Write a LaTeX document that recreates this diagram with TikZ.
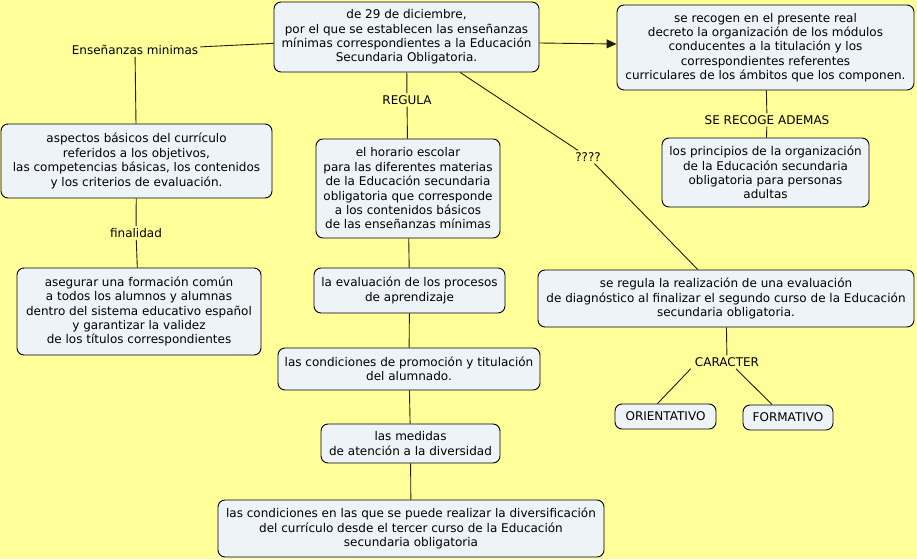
\documentclass[tikz,border=0pt]{standalone}
\usepackage{fontspec}
\setmainfont{DejaVu Sans}
\usetikzlibrary{arrows.meta}
\definecolor{bg}{RGB}{255,255,153}
\definecolor{boxfill}{RGB}{237,243,246}
\definecolor{edge}{RGB}{30,30,15}
\tikzset{
  concept/.style={draw=black, fill=boxfill, rounded corners=7pt, line width=0.9pt, align=center, inner sep=2pt, font=\fontsize{12}{14.4}\selectfont},
  linklabel/.style={align=center, inner sep=2pt, font=\fontsize{12}{14}\selectfont, text=black},
  conn/.style={draw=edge, line width=0.9pt},
  arrowconn/.style={conn, -{Triangle[length=10pt,width=9pt]}}
}
\begin{document}
\begin{tikzpicture}[x=1pt,y=-1pt]
\fill[bg] (0,0) rectangle (917,559);
\useasboundingbox (0,0) rectangle (917,559);

\node[concept, minimum width=265pt, minimum height=70pt] (n1) at (406.5,37) {de 29 de diciembre,\\por el que se establecen las enseñanzas\\mínimas correspondientes a la Educación\\Secundaria Obligatoria.};
\node[concept, minimum width=297pt, minimum height=85pt] (n2) at (765.5,47.5) {se recogen en el presente real\\decreto la organización de los módulos\\conducentes a la titulación y los\\correspondientes referentes\\curriculares de los ámbitos que los componen.};
\node[linklabel] (ens) at (135,50) {Enseñanzas minimas};
\node[concept, minimum width=271pt, minimum height=74pt] (asp) at (136.5,161) {aspectos básicos del currículo\\referidos a los objetivos,\\las competencias básicas, los contenidos\\y los criterios de evaluación.};
\node[linklabel] (fin) at (136,233) {finalidad};
\node[concept, minimum width=244pt, minimum height=87pt] (ase) at (139,311.5) {asegurar una formación común\\a todos los alumnos y alumnas\\dentro del sistema educativo español\\y garantizar la validez\\de los títulos correspondientes};
\node[linklabel] (reg) at (407,100) {REGULA};
\node[concept, minimum width=184pt, minimum height=99pt] (hor) at (408,188.5) {el horario escolar\\para las diferentes materias\\de la Educación secundaria\\obligatoria que corresponde\\a los contenidos básicos\\de las enseñanzas mínimas};
\node[concept, minimum width=191pt, minimum height=45pt] (eva) at (409.5,290.5) {la evaluación de los procesos\\de aprendizaje};
\node[concept, minimum width=262pt, minimum height=42pt] (con) at (409,369) {las condiciones de promoción y titulación\\del alumnado.};
\node[concept, minimum width=179pt, minimum height=39pt] (med) at (410.5,443.5) {las medidas\\de atención a la diversidad};
\node[concept, minimum width=386pt, minimum height=57pt] (div) at (411,528.5) {las condiciones en las que se puede realizar la diversificación\\del currículo desde el tercer curso de la Educación\\secundaria obligatoria};
\node[linklabel] (rec) at (767,120) {SE RECOGE ADEMAS};
\node[concept, minimum width=207pt, minimum height=69pt] (pri) at (765.5,172.5) {los principios de la organización\\de la Educación secundaria\\obligatoria para personas\\adultas};
\node[linklabel] (q) at (588,157) {????};
\node[concept, minimum width=376pt, minimum height=57pt] (diag) at (726,298.5) {se regula la realización de una evaluación\\de diagnóstico al finalizar el segundo curso de la Educación\\secundaria obligatoria.};
\node[linklabel] (car) at (727,362) {CARACTER};
\node[concept, minimum width=101pt, minimum height=25pt] (ori) at (665.5,416.5) {ORIENTATIVO};
\node[concept, minimum width=90pt, minimum height=25pt] (for) at (788,417.5) {FORMATIVO};

\draw[conn] (n1) -- (ens);
\draw[conn] (ens) -- (asp);
\draw[conn] (asp) -- (fin);
\draw[conn] (fin) -- (ase);
\draw[conn] (n1) -- (reg);
\draw[conn] (reg) -- (hor);
\draw[conn] (hor) -- (eva);
\draw[conn] (eva) -- (con);
\draw[conn] (con) -- (med);
\draw[conn] (med) -- (div);
\draw[arrowconn] ([yshift=-6pt]n1.east) -- ([yshift=3.5pt]n2.west);
\draw[conn] (n2) -- (rec);
\draw[conn] (rec) -- (pri);
\draw[conn] (n1) -- (q);
\draw[conn] (q) -- (diag);
\draw[conn] (diag) -- (car);
\draw[conn] ([xshift=-2pt]car.south west) -- ([xshift=-8pt]ori.north);
\draw[conn] ([xshift=9pt]car.south) -- ([xshift=-16pt]for.north);
\end{tikzpicture}
\end{document}
